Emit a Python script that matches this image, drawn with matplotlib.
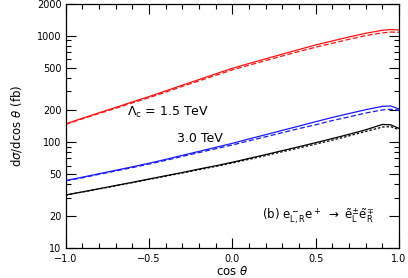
"""Angular distribution d sigma / d cos theta for selectron pair production."""
import matplotlib
matplotlib.use("Agg")
import matplotlib.pyplot as plt
from matplotlib.ticker import FixedLocator, FixedFormatter

# cos(theta) sample points
cos_t = [-1.0, -0.9, -0.8, -0.7, -0.6, -0.5, -0.4, -0.3, -0.2, -0.1, 0.0,
         0.1, 0.2, 0.3, 0.4, 0.5, 0.6, 0.7, 0.8, 0.9, 0.95, 1.0]

# Lambda_c = 1.5 TeV (red)
red_solid = [148, 167, 188, 211, 238, 267, 302, 342, 386, 437, 493,
             547, 605, 670, 740, 817, 891, 971, 1052, 1122, 1140, 1130]
red_dash = [146, 165, 185, 207, 233, 261, 294, 333, 375, 423, 476,
            527, 582, 643, 709, 778, 848, 923, 1000, 1062, 1080, 1075]

# Lambda_c = 3.0 TeV (blue)
blue_solid = [43.3, 46.6, 50.2, 54.1, 58.3, 63.0, 68.5, 74.8, 81.5, 88.9, 97.0,
              106.7, 117, 128.5, 141, 155, 170, 185, 201, 216, 218, 204]
blue_dash = [43.0, 46.0, 49.6, 53.3, 57.4, 61.9, 67.1, 73.1, 79.4, 86.3, 93.6,
             102.5, 111.8, 122.3, 133.6, 145, 159, 172, 187, 200, 203, 199]

# standard model (black)
black_solid = [31.7, 33.9, 36.3, 38.9, 41.7, 44.8, 48.1, 51.6, 55.6, 59.7, 64.4,
               70.0, 76.0, 82.8, 90.2, 98.4, 107.6, 118, 130, 146, 145, 134]
black_dash = [31.6, 33.8, 36.1, 38.7, 41.4, 44.4, 47.6, 51.0, 54.8, 58.8, 63.3,
              68.6, 74.4, 80.9, 87.8, 95.5, 104, 114, 125.5, 138, 139.5, 130]

y_major = [10, 20, 50, 100, 200, 500, 1000, 2000]
y_minor = [30, 40, 60, 70, 80, 90, 300, 400, 600, 700, 800, 900]
x_major = [-1.0, -0.5, 0.0, 0.5, 1.0]
x_labels = ["\u22121.0", "\u22120.5", "0.0", "0.5", "1.0"]

plt.rcParams.update({
    "font.family": "DejaVu Sans",
    "mathtext.fontset": "dejavusans",
    "font.size": 7,
})

fig = plt.figure(figsize=(4.08, 2.78), dpi=100)
ax = fig.add_axes([0.161, 0.107, 0.817, 0.880])

ax.plot(cos_t, red_solid, color="#ff1010", lw=0.9)
ax.plot(cos_t, red_dash, color="#ff1010", lw=0.9, dashes=(4, 2))
ax.plot(cos_t, blue_solid, color="#1818ff", lw=0.9)
ax.plot(cos_t, blue_dash, color="#1818ff", lw=0.9, dashes=(4, 2))
ax.plot(cos_t, black_solid, color="black", lw=0.9)
ax.plot(cos_t, black_dash, color="black", lw=0.9, dashes=(2, 1.5))

ax.set_yscale("log")
ax.set_xlim(-1.0, 1.0)
ax.set_ylim(10, 2000)

ax.yaxis.set_major_locator(FixedLocator(y_major))
ax.yaxis.set_major_formatter(FixedFormatter([str(v) for v in y_major]))
ax.yaxis.set_minor_locator(FixedLocator(y_minor))
ax.yaxis.set_minor_formatter(FixedFormatter([""] * len(y_minor)))
ax.xaxis.set_major_locator(FixedLocator(x_major))
ax.xaxis.set_major_formatter(FixedFormatter(x_labels))
ax.xaxis.set_minor_locator(FixedLocator([i / 10 for i in range(-10, 11)]))

ax.tick_params(which="both", direction="in", top=True, right=True, width=0.8,
               labelsize=7)
ax.tick_params(which="major", length=7)
ax.tick_params(axis="x", which="major", pad=4)
ax.tick_params(axis="y", which="major", pad=3)
ax.tick_params(which="minor", length=3.5)
for s in ax.spines.values():
    s.set_linewidth(0.9)

ax.set_xlabel(r"cos $\theta$", fontsize=8.5, labelpad=1)
ax.set_ylabel(r"d$\sigma$/dcos $\theta$ (fb)", fontsize=8.5, labelpad=9)

ax.text(-0.635, 191, r"$\Lambda_{\rm c}$ = 1.5 TeV", fontsize=9, va="center")
ax.text(-0.33, 107, "3.0 TeV", fontsize=9, va="center")
ax.text(0.175, 19.8,
        r"(b) e$^-_{\rm L,R}$e$^+$ $\rightarrow$ $\tilde{\rm e}^{\pm}_{\rm L}\tilde{\rm e}^{\mp}_{\rm R}$",
        fontsize=8.5, va="center")

fig.savefig("out.png", dpi=100)
